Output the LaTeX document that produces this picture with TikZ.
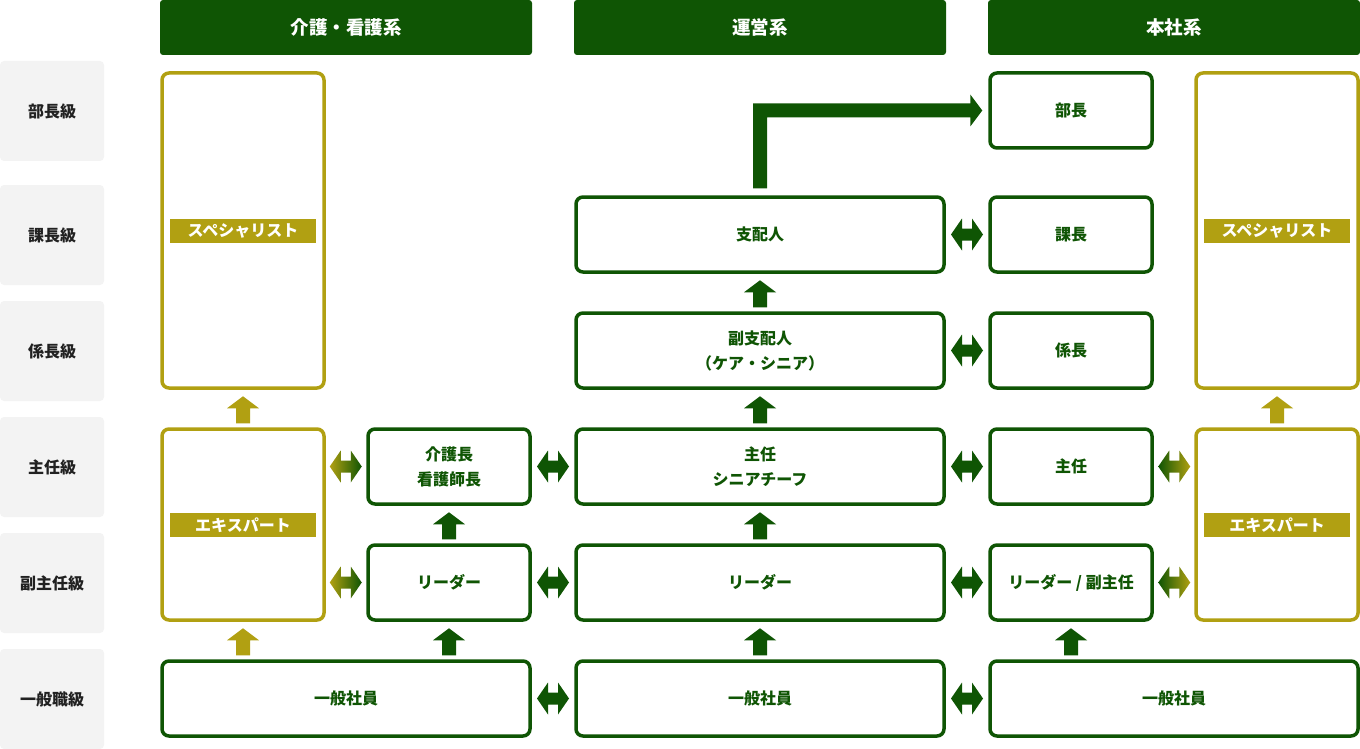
\documentclass[tikz,border=0pt]{standalone}
\usepackage{fontspec}
\setmainfont{Noto Sans CJK JP}
\usetikzlibrary{calc}
\definecolor{dg}{HTML}{0F5504}
\definecolor{ol}{HTML}{B1A012}
\definecolor{lg}{HTML}{F3F3F3}
\newcommand\uparr[2]{\fill[#2] (#1) -- ++(16,12) -- ++(-9,0) -- ++(0,15) -- ++(-14,0) -- ++(0,-15) -- ++(-9,0) -- cycle;}
\newcommand\dblarr[2]{\path[#2] (#1) ++(-16,0) -- ++(11,-16) -- ++(0,10) -- ++(10,0) -- ++(0,-10) -- ++(11,16) -- ++(-11,16) -- ++(0,-10) -- ++(-10,0) -- ++(0,10) -- cycle;}
\begin{document}
\begin{tikzpicture}[x=1pt,y=-1pt,
 every node/.style={font=\bfseries\fontsize{16}{25}\selectfont, align=center, inner sep=0},
 grade/.style={fill=lg, rounded corners=4, minimum width=104, minimum height=100, text=black!87},
 head/.style={fill=dg, rounded corners=3, minimum width=372, minimum height=55, text=white, font=\bfseries\fontsize{18.5}{22}\selectfont},
 gbox/.style={draw=dg, line width=3.5, rounded corners=7, fill=white, text=dg, minimum width=162, minimum height=75},
 wide/.style={minimum width=368},
 obox/.style={draw=ol, line width=3.5, rounded corners=7, fill=white, minimum width=162},
 tag/.style={fill=ol, text=white, minimum width=146, minimum height=24},
 gfill/.style={fill=dg},
 ofill/.style={fill=ol},
 og/.style={shade, left color=ol, right color=dg},
 go/.style={shade, left color=dg, right color=ol}
 ]
\useasboundingbox (0,0) rectangle (1360,749);
% grade labels
\node[grade] (g1) at (52,111) {部長級};
\node[grade] (g2) at (52,235) {課長級};
\node[grade] (g3) at (52,351) {係長級};
\node[grade] (g4) at (52,467) {主任級};
\node[grade] (g5) at (52,583) {副主任級};
\node[grade] (g6) at (52,699) {一般職級};
% headers
\node[head] (h1) at (346,27.5) {介護・看護系};
\node[head] (h2) at (760,27.5) {運営系};
\node[head] (h3) at (1174,27.5) {本社系};
% column A
\node[obox, minimum height=315] (aspec) at (243,230.5) {};
\node[tag] (aspect) at (243,231) {スペシャリスト};
\node[obox, minimum height=191] (aexp) at (243,524.5) {};
\node[tag] (aexpt) at (243,525) {エキスパート};
\node[gbox, wide] (agen) at (346,698.5) {一般社員};
% column B
\node[gbox] (btop) at (449,466.5) {介護長\\看護師長};
\node[gbox] (bld) at (449,582.5) {リーダー};
% column C
\node[gbox, wide] (c1) at (760,234.5) {支配人};
\node[gbox, wide] (c2) at (760,350.5) {副支配人\\（ケア・シニア）};
\node[gbox, wide] (c3) at (760,466.5) {主任\\シニアチーフ};
\node[gbox, wide] (c4) at (760,582.5) {リーダー};
\node[gbox, wide] (c5) at (760,698.5) {一般社員};
% column D
\node[gbox] (d0) at (1071,110.5) {部長};
\node[gbox] (d1) at (1071,234.5) {課長};
\node[gbox] (d2) at (1071,350.5) {係長};
\node[gbox] (d3) at (1071,466.5) {主任};
\node[gbox] (d4) at (1071,582.5) {リーダー / 副主任};
\node[gbox, wide] (dgen) at (1174,698.5) {一般社員};
% column E
\node[obox, minimum height=315] (espec) at (1277,230.5) {};
\node[tag] (espect) at (1277,231) {スペシャリスト};
\node[obox, minimum height=191] (eexp) at (1277,524.5) {};
\node[tag] (eexpt) at (1277,525) {エキスパート};
% up arrows
\uparr{$(aspec.south)+(0,6.5)$}{ol}
\uparr{$(aexp.south)+(0,6.5)$}{ol}
\uparr{$(btop.south)+(0,6.5)$}{dg}
\uparr{$(bld.south)+(0,6.5)$}{dg}
\uparr{$(c1.south)+(0,6.5)$}{dg}
\uparr{$(c2.south)+(0,6.5)$}{dg}
\uparr{$(c3.south)+(0,6.5)$}{dg}
\uparr{$(c4.south)+(0,6.5)$}{dg}
\uparr{$(d4.south)+(0,6.5)$}{dg}
\uparr{$(espec.south)+(0,6.5)$}{ol}
% double arrows
\dblarr{$(btop.west)+(-20.5,0)$}{og}
\dblarr{$(bld.west)+(-20.5,0)$}{og}
\dblarr{$(btop.east)!0.5!(c3.west)$}{gfill}
\dblarr{$(bld.east)!0.5!(c4.west)$}{gfill}
\dblarr{$(agen.east)!0.5!(c5.west)$}{gfill}
\dblarr{$(c1.east)!0.5!(d1.west)$}{gfill}
\dblarr{$(c2.east)!0.5!(d2.west)$}{gfill}
\dblarr{$(c3.east)!0.5!(d3.west)$}{gfill}
\dblarr{$(c4.east)!0.5!(d4.west)$}{gfill}
\dblarr{$(c5.east)!0.5!(dgen.west)$}{gfill}
\dblarr{$(d3.east)+(20.5,0)$}{go}
\dblarr{$(d4.east)+(20.5,0)$}{go}
% elbow arrow 支配人 -> 部長
\coordinate (eb) at ($(c1.north)+(0,-7)$);
\coordinate (et) at ($(d0.west)+(-6,0)$);
\fill[dg] ($(eb)+(-7,0)$) -- ($(eb |- et)+(-7,-7)$) -- ($(et)+(-12,-7)$) -- ($(et)+(-12,-16)$) -- (et) -- ($(et)+(-12,16)$) -- ($(et)+(-12,7)$) -- ($(eb |- et)+(7,7)$) -- ($(eb)+(7,0)$) -- cycle;
\end{tikzpicture}
\end{document}
